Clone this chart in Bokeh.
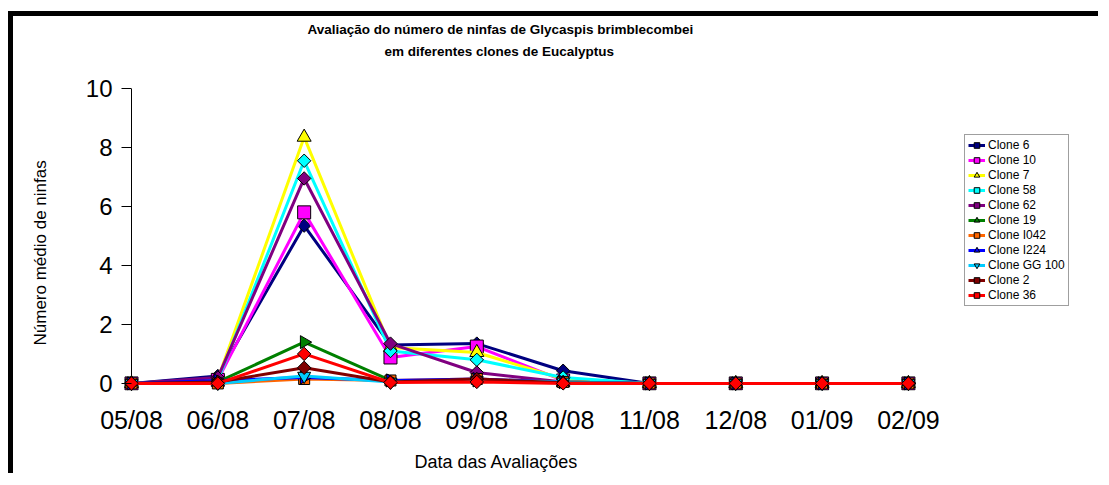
import math
from bokeh.plotting import figure
from bokeh.models import FixedTicker, Legend, LegendItem, Range1d, ColumnDataSource, Title, Span
from bokeh.embed import file_html
from bokeh.resources import INLINE

# ---------------- data ----------------
dates = ["05/08", "06/08", "07/08", "08/08", "09/08", "10/08", "11/08", "12/08", "01/09", "02/09"]

clone_6    = [0.0, 0.25, 5.35, 1.30, 1.35, 0.43, 0.0, 0.0, 0.0, 0.0]
clone_10   = [0.0, 0.12, 5.80, 0.88, 1.25, 0.10, 0.0, 0.0, 0.0, 0.0]
clone_7    = [0.0, 0.15, 8.35, 1.22, 1.05, 0.15, 0.0, 0.0, 0.0, 0.0]
clone_58   = [0.0, 0.10, 7.55, 1.10, 0.80, 0.20, 0.0, 0.0, 0.0, 0.0]
clone_62   = [0.0, 0.20, 6.95, 1.35, 0.37, 0.05, 0.0, 0.0, 0.0, 0.0]
clone_19   = [0.0, 0.05, 1.40, 0.10, 0.10, 0.05, 0.0, 0.0, 0.0, 0.0]
clone_i042 = [0.0, 0.00, 0.15, 0.10, 0.15, 0.05, 0.0, 0.0, 0.0, 0.0]
clone_i224 = [0.0, 0.10, 0.20, 0.10, 0.15, 0.05, 0.0, 0.0, 0.0, 0.0]
clone_gg100 = [0.0, 0.00, 0.25, 0.05, 0.10, 0.05, 0.0, 0.0, 0.0, 0.0]
clone_2    = [0.0, 0.05, 0.53, 0.05, 0.15, 0.02, 0.0, 0.0, 0.0, 0.0]
clone_36   = [0.0, 0.00, 1.00, 0.03, 0.05, 0.00, 0.0, 0.0, 0.0, 0.0]

series_names = ["Clone 6", "Clone 10", "Clone 7", "Clone 58", "Clone 62", "Clone 19",
                "Clone I042", "Clone I224", "Clone GG 100", "Clone 2", "Clone 36"]
series_values = [clone_6, clone_10, clone_7, clone_58, clone_62, clone_19,
                 clone_i042, clone_i224, clone_gg100, clone_2, clone_36]
series_colors = ["#000080", "#FF00FF", "#FFFF00", "#00FFFF", "#800080", "#008000",
                 "#FF6600", "#0000FF", "#00CCFF", "#800000", "#FF0000"]
# (marker, size, angle)
D = ("square", 9.5, math.pi / 4)
series_markers = [D, ("square", 13, 0.0), ("triangle", 14, 0.0), D, D,
                  ("triangle", 13, -math.pi / 2), ("square", 11, 0.0),
                  ("triangle", 13, -math.pi / 2), ("inverted_triangle", 13, 0.0), D, D]

y_ticks = [0, 2, 4, 6, 8, 10]

title_line1 = "Avaliação do número de ninfas de Glycaspis brimblecombei"
title_line2 = "em  diferentes clones de Eucalyptus"
x_title = "Data das Avaliações"
y_title = "Número médio de ninfas"

FONT = "Liberation Sans"

p = figure(width=1090, height=462, output_backend="svg", toolbar_location=None,
           title=None,
           x_range=Range1d(-0.116, 11.26), y_range=Range1d(-0.24, 10),
           min_border_left=108, min_border_right=0, min_border_top=72, min_border_bottom=88,
           background_fill_color="white", border_fill_color="white",
           styles={"position": "relative", "left": "8px", "top": "11px",
                   "border-top": "5px solid black", "border-left": "5px solid black"})
p.outline_line_color = None
p.xgrid.visible = False
p.ygrid.visible = False

# vertical axis line at the first category
p.add_layout(Span(location=0, dimension="height", line_color="black", line_width=1, level="underlay"))

xs = list(range(len(dates)))
items = []
for name, vals, col, (mk, sz, ang) in zip(series_names, series_values, series_colors, series_markers):
    src = ColumnDataSource(dict(x=xs, y=vals))
    lr = p.line("x", "y", source=src, line_color=col, line_width=3)
    sr = p.scatter("x", "y", source=src, marker=mk, size=sz, angle=ang,
                   fill_color=col, line_color="black", line_width=1)
    items.append(LegendItem(label=name, renderers=[lr, sr]))

# y axis
ya = p.yaxis[0]
ya.ticker = FixedTicker(ticks=y_ticks)
ya.minor_tick_line_color = None
ya.major_tick_in = 10
ya.major_tick_out = 0
ya.major_label_standoff = 9
ya.major_label_text_font = FONT
ya.major_label_text_font_size = "24px"
ya.major_label_text_color = "black"
ya.axis_line_color = None
ya.major_tick_line_color = "black"

# x axis
xa = p.xaxis[0]
xa.ticker = FixedTicker(ticks=xs)
xa.major_label_overrides = {i: d for i, d in enumerate(dates)}
xa.axis_line_color = None
xa.major_tick_line_color = None
xa.minor_tick_line_color = None
xa.major_tick_in = 0
xa.major_tick_out = 0
xa.major_label_standoff = 15
xa.major_label_text_font = FONT
xa.major_label_text_font_size = "25px"
xa.major_label_text_color = "black"

def spacer(size_px, standoff):
    return Title(text=" ", text_font=FONT, text_font_size=size_px, standoff=standoff)

# titles (first added = closest to the frame)
p.add_layout(spacer("13.5px", 11), "above")
p.add_layout(Title(text=title_line2, align="left", offset=263, standoff=4,
                   text_font=FONT, text_font_size="13.5px", text_font_style="bold",
                   text_color="black"), "above")
p.add_layout(Title(text=title_line1, align="left", offset=186, standoff=6,
                   text_font=FONT, text_font_size="13.5px", text_font_style="bold",
                   text_color="black"), "above")

p.add_layout(spacer("8px", 1), "below")
p.add_layout(Title(text=x_title, align="left", offset=293, standoff=2,
                   text_font=FONT, text_font_size="18px", text_font_style="normal",
                   text_color="black"), "below")

p.add_layout(spacer("12px", 16), "left")
p.add_layout(Title(text=y_title, align="left", offset=45, standoff=2,
                   text_font=FONT, text_font_size="17px", text_font_style="normal",
                   text_color="black"), "left")

legend = Legend(items=items, location=(843, 84), padding=3, spacing=1, margin=0,
                glyph_width=17, glyph_height=14, label_height=14, label_standoff=3,
                label_text_font=FONT, label_text_font_size="12px", label_text_color="black",
                border_line_color="#404040", border_line_width=1,
                background_fill_color="white", background_fill_alpha=1.0)
p.add_layout(legend)

open("out.html", "w").write(file_html(p, INLINE))
